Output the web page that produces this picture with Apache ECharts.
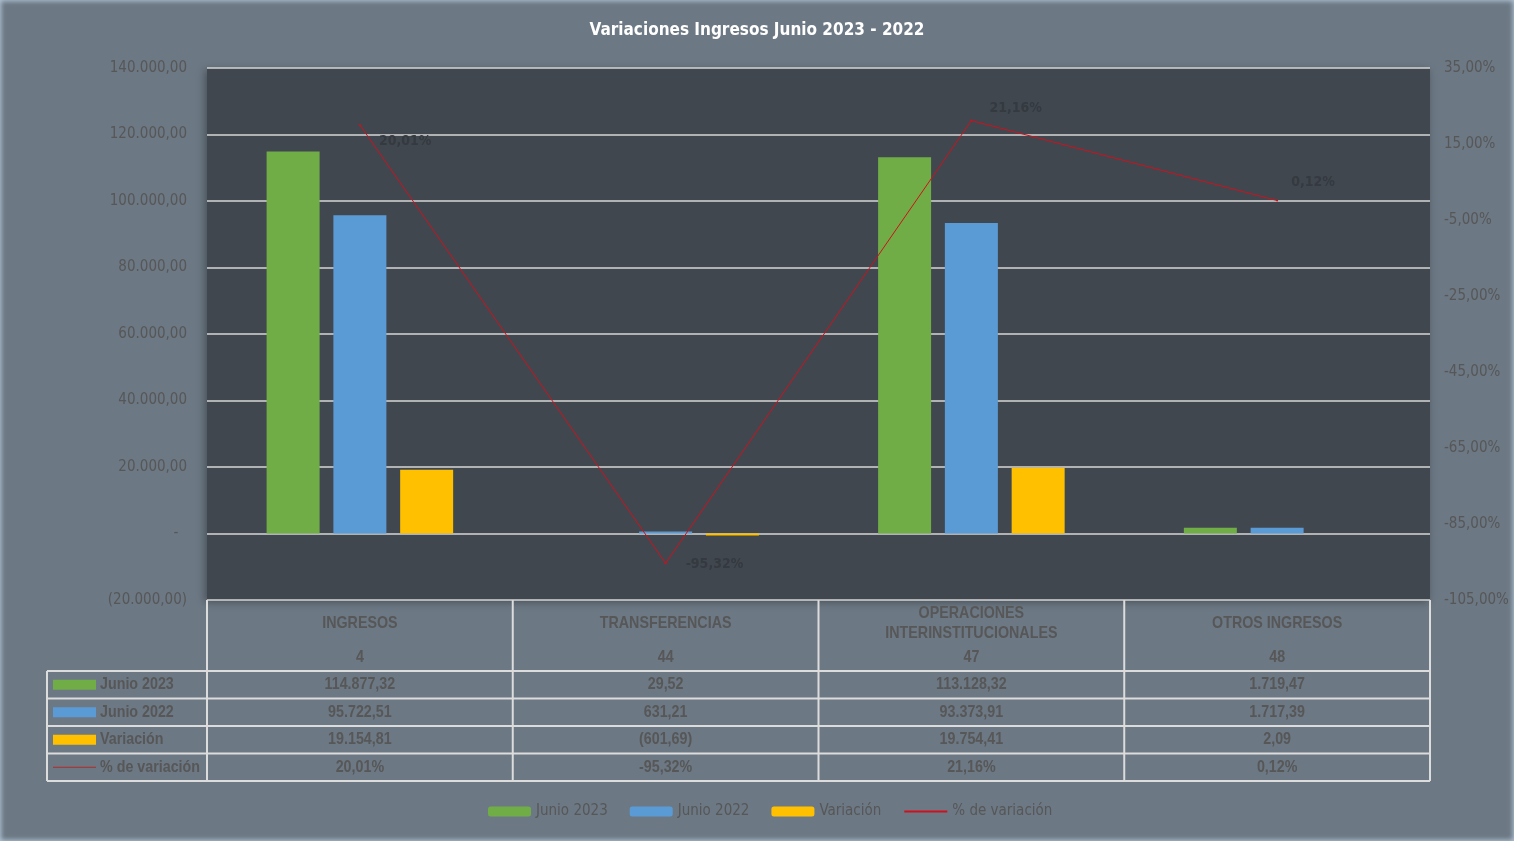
<!DOCTYPE html>
<html>
<head>
<meta charset="utf-8">
<script src="https://cdn.jsdelivr.net/npm/echarts@6/dist/echarts.min.js"></script>
<style>
  html, body { margin: 0; padding: 0; background: #6c7884; }
  #main { width: 1514px; height: 841px; box-shadow: inset 0 0 5px 1px #b4c6d8; }
</style>
</head>
<body>
<div id="main"></div>
<script>
const categories = ['INGRESOS', 'TRANSFERENCIAS', 'OPERACIONES\nINTERINSTITUCIONALES', 'OTROS INGRESOS']
const codes = ['4', '44', '47', '48']
const junio2023 = [114877.32, 29.52, 113128.32, 1719.47]
const junio2022 = [95722.51, 631.21, 93373.91, 1717.39]
const variacion = [19154.81, -601.69, 19754.41, 2.09]
const pctVariacion = [20.01, -95.32, 21.16, 0.12]
const leftTicks = { min: -20000, max: 140000, step: 20000 }
const rightTicks = { min: -105, max: 35, step: 20 }

const FONT = "'DejaVu Sans Condensed', sans-serif"
const TFONT = "'Liberation Sans', Arial, sans-serif" // squeezed with scaleX in the table
const TXT = '#575757'
const colors = ['#70ad47', '#5b9bd5', '#ffc000', '#d0101c']

// 114877.32 -> 114.877,32 ; negatives in brackets
function fmtNum(v) {
  const p = Math.abs(v).toFixed(2).split('.')
  const s = p[0].replace(/\B(?=(\d{3})+(?!\d))/g, '.') + ',' + p[1]
  return v < 0 ? '(' + s + ')' : s
}
function fmtPct(v) {
  return v.toFixed(2).replace('.', ',') + '%'
}

// table layout (under the plot)
const gl = 207, gr = 1430, gTop = 68, gBottom = 600
const colW = (gr - gl) / 4
const tLeft = 47, headBottom = 671, rowH = 27.5
const narrow = 0.84
const rows = [
  { name: 'Junio 2023', vals: junio2023.map(fmtNum), color: colors[0], line: false },
  { name: 'Junio 2022', vals: junio2022.map(fmtNum), color: colors[1], line: false },
  { name: 'Variación', vals: variacion.map(fmtNum), color: colors[2], line: false },
  { name: '% de variación', vals: pctVariacion.map(fmtPct), color: '#b02a2a', line: true },
]

function cellText(x, y, text, align) {
  return {
    type: 'text', x: x, y: y, scaleX: narrow,
    style: { text: text, fill: TXT, font: 'bold 17px ' + TFONT, align: align || 'center', verticalAlign: 'middle', lineHeight: 20 },
  }
}

let g = []
let ls = { stroke: '#dcdcdc', lineWidth: 2 }
for (let k = 0; k <= 4; k++) {
  g.push({ type: 'line', shape: { x1: gl + k * colW, y1: gBottom, x2: gl + k * colW, y2: headBottom + rows.length * rowH }, style: ls })
}
g.push({ type: 'line', shape: { x1: tLeft, y1: headBottom, x2: tLeft, y2: headBottom + rows.length * rowH }, style: ls })
for (let r = 0; r <= rows.length; r++) {
  let y = headBottom + r * rowH
  g.push({ type: 'line', shape: { x1: tLeft, y1: y, x2: gr, y2: y }, style: ls })
}
categories.forEach((c, i) => {
  let cx = gl + colW * (i + 0.5)
  g.push(cellText(cx, 623, c))
  g.push(cellText(cx, 657, codes[i]))
})
rows.forEach((row, r) => {
  let cy = headBottom + r * rowH + rowH / 2
  if (row.line) {
    g.push({ type: 'line', shape: { x1: 53, y1: cy, x2: 96, y2: cy }, style: { stroke: row.color, lineWidth: 1 } })
  } else {
    g.push({ type: 'rect', shape: { x: 53, y: cy - 5, width: 43, height: 10 }, style: { fill: row.color } })
  }
  g.push(cellText(100, cy, row.name, 'left'))
  row.vals.forEach((v, i) => {
    g.push(cellText(gl + colW * (i + 0.5), cy, v))
  })
})

// label placement for the % line
const pctLabelOffsets = [[13, 16], [14, 1], [12, -12], [8, -18]]

let chart = echarts.init(document.getElementById('main'))
chart.setOption({
  animation: false,
  textStyle: { fontFamily: FONT },
  title: {
    text: 'Variaciones Ingresos Junio 2023 - 2022',
    left: 'center',
    top: 17,
    textStyle: { color: '#fff', fontSize: 17, fontWeight: 'bold', fontFamily: FONT },
  },
  grid: {
    left: gl, right: 1514 - gr, top: gTop, bottom: 841 - gBottom,
    show: true, backgroundColor: '#40474f', borderWidth: 0,
    shadowBlur: 8, shadowColor: 'rgba(0,0,0,0.35)', shadowOffsetX: -2, shadowOffsetY: 2,
  },
  legend: {
    top: 799,
    left: 483,
    itemWidth: 43,
    itemHeight: 10,
    itemGap: 22,
    textStyle: { color: TXT, fontSize: 15, fontFamily: FONT },
    data: ['Junio 2023', 'Junio 2022', 'Variación', { name: '% de variación', itemStyle: { opacity: 0 } }],
  },
  graphic: g,
  xAxis: {
    type: 'category',
    data: categories,
    axisLine: { show: false },
    axisTick: { show: false },
    axisLabel: { show: false },
  },
  yAxis: [
    {
      type: 'value',
      min: leftTicks.min, max: leftTicks.max, interval: leftTicks.step,
      axisLine: { show: false },
      axisTick: { show: false },
      axisLabel: {
        color: TXT, fontSize: 15, margin: 20,
        formatter: v => (v === 0 ? '-  ' : fmtNum(v)),
      },
      splitLine: { lineStyle: { color: '#d6d6d6', width: 1.5 } },
    },
    {
      type: 'value',
      min: rightTicks.min, max: rightTicks.max, interval: rightTicks.step,
      axisLine: { show: false },
      axisTick: { show: false },
      axisLabel: { color: TXT, fontSize: 15, margin: 14, formatter: v => fmtPct(v) },
      splitLine: { show: false },
    },
  ],
  series: [
    { name: 'Junio 2023', type: 'bar', data: junio2023, barWidth: 53, barGap: '26%', itemStyle: { color: colors[0] } },
    { name: 'Junio 2022', type: 'bar', data: junio2022, barWidth: 53, barGap: '26%', itemStyle: { color: colors[1] } },
    { name: 'Variación', type: 'bar', data: variacion, barWidth: 53, barGap: '26%', itemStyle: { color: colors[2] } },
    {
      name: '% de variación',
      type: 'line',
      yAxisIndex: 1,
      symbol: 'circle',
      symbolSize: 2,
      lineStyle: { color: colors[3], width: 1 },
      itemStyle: { color: colors[3] },
      data: pctVariacion.map((v, i) => ({
        value: v,
        label: { show: true, position: 'right', offset: pctLabelOffsets[i] },
      })),
      label: {
        show: true,
        color: '#353a40',
        fontSize: 14,
        fontWeight: 'bold',
        formatter: p => fmtPct(p.value),
      },
    },
  ],
})
</script>
</body>
</html>
